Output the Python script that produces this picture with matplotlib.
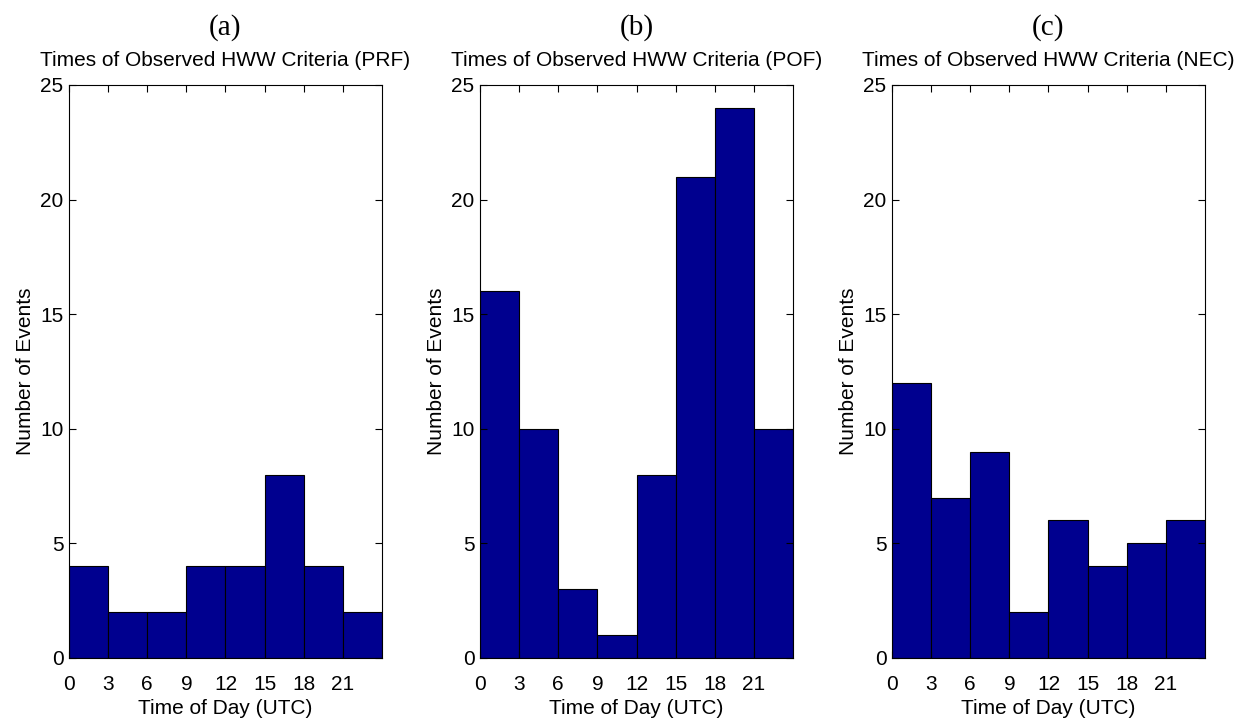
import matplotlib
matplotlib.use('Agg')
import matplotlib.pyplot as plt

# bin edges (hours, UTC) and event counts per 3-h bin
bin_edges = [0, 3, 6, 9, 12, 15, 18, 21, 24]
prf_counts = [4, 2, 2, 4, 4, 8, 4, 2]
pof_counts = [16, 10, 3, 1, 8, 21, 24, 10]
nec_counts = [12, 7, 9, 2, 6, 4, 5, 6]

panel_letters = ['(a)', '(b)', '(c)']
regions = ['PRF', 'POF', 'NEC']
xtick_vals = [0, 3, 6, 9, 12, 15, 18, 21]
ytick_vals = [0, 5, 10, 15, 20, 25]

plt.rcParams['font.family'] = ['Liberation Sans', 'DejaVu Sans']

fig = plt.figure(figsize=(12.59, 7.24), dpi=100)
lefts = [0.0548, 0.3813, 0.7085]

for i, counts in enumerate([prf_counts, pof_counts, nec_counts]):
    ax = fig.add_axes([lefts[i], 0.0912, 0.2486, 0.7914])
    ax.bar(bin_edges[:-1], counts, width=3, align='edge',
           color='#00008F', edgecolor='black', linewidth=0.8)
    ax.set_xlim(0, 24)
    ax.set_ylim(0, 25)
    ax.set_xticks(xtick_vals)
    ax.set_yticks(ytick_vals)
    ax.tick_params(direction='in', top=True, right=True, labelsize=15, length=5)
    ax.tick_params(axis='x', pad=12)
    ax.tick_params(axis='y', pad=4)
    ax.set_xlabel('Time of Day (UTC)', fontsize=15, labelpad=4)
    ax.set_ylabel('Number of Events', fontsize=15, labelpad=4)
    ax.set_title('Times of Observed HWW Criteria (%s)' % regions[i], fontsize=15, pad=14)
    ax.text(0.5, 1.1, panel_letters[i], transform=ax.transAxes, ha='center',
            va='center', fontsize=21, family='Liberation Serif')

fig.savefig('out.png', dpi=100)
